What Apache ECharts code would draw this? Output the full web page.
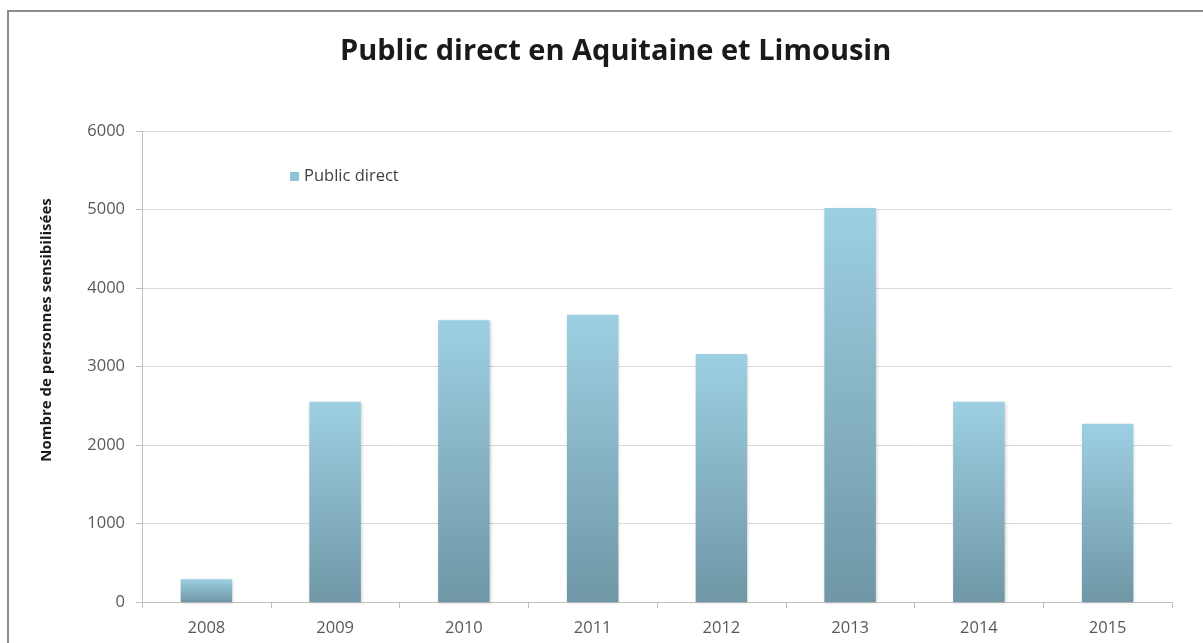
<!DOCTYPE html>
<html>
<head>
<meta charset="utf-8">
<script src="https://cdn.jsdelivr.net/npm/echarts@6/dist/echarts.min.js"></script>
<style>
html,body{margin:0;padding:0;background:#fff;}
#chart{width:1203px;height:643px;}
</style>
</head>
<body>
<div id="chart"></div>
<script>
const categories = ['2008','2009','2010','2011','2012','2013','2014','2015'];
const publicDirect = [290, 2550, 3590, 3660, 3160, 5020, 2550, 2270];
const seriesName = 'Public direct';
const titleText = 'Public direct en Aquitaine et Limousin';
const yAxisName = 'Nombre de personnes sensibilisées';
const yMin = 0, yMax = 6000, yInterval = 1000;

const chart = echarts.init(document.getElementById('chart'), null, {renderer:'canvas'});
const font = '"Open Sans", "Noto Sans", sans-serif';
chart.setOption({
  animation:false,
  backgroundColor:'#fff',
  graphic:[{
    type:'rect', silent:true, z:-10,
    shape:{x:8, y:11, width:1400, height:800},
    style:{fill:'none', stroke:'#8c8c8c', lineWidth:2}
  },{
    type:'text', silent:true,
    x:47, y:330, rotation:Math.PI/2,
    style:{text:yAxisName, fontFamily:font, fontSize:15, fontWeight:'bold', fill:'#1a1a1a',
      align:'center', verticalAlign:'middle'}
  }],
  title:{
    text:titleText, left:335, top:32,
    textStyle:{fontFamily:font, fontSize:29, fontWeight:'bold', color:'#1a1a1a'}
  },
  legend:{
    data:[seriesName], left:285, top:163, itemWidth:9, itemHeight:9, itemGap:8,
    icon:'rect',
    itemStyle:{color:'#8fc3d8'},
    textStyle:{fontFamily:font, fontSize:16.5, color:'#404040'}
  },
  grid:{left:142, right:31, top:131, bottom:41, containLabel:false},
  xAxis:{
    type:'category', data:categories,
    axisLine:{lineStyle:{color:'#bfbfbf', width:1}},
    axisTick:{show:true, length:6, lineStyle:{color:'#bfbfbf'}},
    axisLabel:{fontFamily:font, fontSize:16.5, color:'#595959', margin:18}
  },
  yAxis:{
    type:'value', min:yMin, max:yMax, interval:yInterval,
    axisLine:{show:true, lineStyle:{color:'#bfbfbf'}},
    axisTick:{show:true, length:6, lineStyle:{color:'#bfbfbf'}},
    axisLabel:{fontFamily:font, fontSize:16.5, color:'#595959', margin:17,
      formatter:function(v){return String(v);}},
    splitLine:{lineStyle:{color:'#d9d9d9', width:1}}
  },
  series:[{
    name:seriesName, type:'bar', data:publicDirect, barWidth:'40%',
    itemStyle:{
      color:new echarts.graphic.LinearGradient(0,0,0,1,[
        {offset:0, color:'#9dcfe2'},
        {offset:1, color:'#6f97a6'}
      ]),
      shadowColor:'rgba(0,0,0,0.18)', shadowBlur:3, shadowOffsetX:1, shadowOffsetY:1
    }
  }]
});
</script>
</body>
</html>
